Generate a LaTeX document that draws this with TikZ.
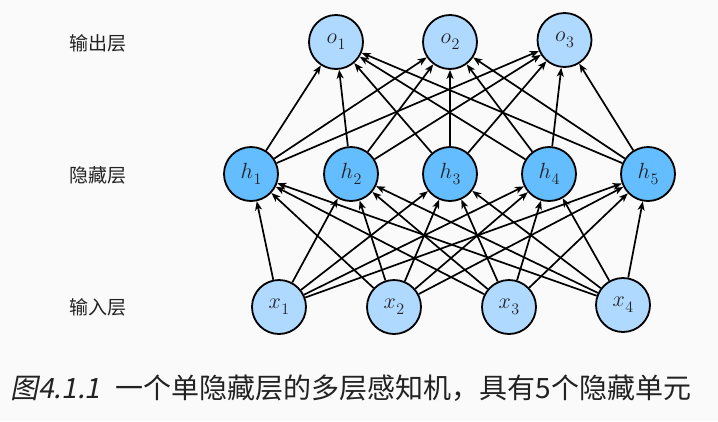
\documentclass[tikz,border=0pt]{standalone}
\usepackage{fix-cm}
\usepackage[no-math]{fontspec}
\setmainfont{Noto Sans CJK SC}
\newfontfamily\cjkslant[FakeSlant=0.2]{Noto Sans CJK SC}
\usetikzlibrary{arrows.meta}
\definecolor{bgc}{RGB}{250,250,250}
\definecolor{lightnode}{RGB}{176,217,255}
\definecolor{darknode}{RGB}{99,189,254}
\definecolor{captc}{RGB}{34,34,34}
\newcommand{\nodelabel}[2]{\fontsize{22}{26}\selectfont$#1$\kern0.5pt\raisebox{-6pt}{\fontsize{16}{18}\selectfont$#2$}}
\tikzset{
  neuron/.style={circle, draw=black, line width=1.8pt, minimum size=54pt, inner sep=0pt, text=captc},
  ionode/.style={neuron, fill=lightnode},
  hidnode/.style={neuron, fill=darknode},
  conn/.style={line width=1.7pt, -{Stealth[length=9pt,width=7pt,inset=2.5pt]}},
  layerlabel/.style={font=\fontsize{19}{22}\selectfont, text=captc},
}
\begin{document}
\begin{tikzpicture}[x=1pt,y=-1pt]
\fill[bgc] (0,0) rectangle (718,421);
\useasboundingbox (0,0) rectangle (718,421);
% output layer
\node[ionode] (o1) at (336,42) {\nodelabel{o}{1}};
\node[ionode] (o2) at (450,42) {\nodelabel{o}{2}};
\node[ionode] (o3) at (564.5,40) {\nodelabel{o}{3}};
% hidden layer
\node[hidnode] (h1) at (251,174) {\nodelabel{h}{1}};
\node[hidnode] (h2) at (351,174) {\nodelabel{h}{2}};
\node[hidnode] (h3) at (450,174) {\nodelabel{h}{3}};
\node[hidnode] (h4) at (549,174) {\nodelabel{h}{4}};
\node[hidnode] (h5) at (648,174) {\nodelabel{h}{5}};
% input layer
\node[ionode] (x1) at (279,307) {\nodelabel{x}{1}};
\node[ionode] (x2) at (394,307) {\nodelabel{x}{2}};
\node[ionode] (x3) at (509,307) {\nodelabel{x}{3}};
\node[ionode] (x4) at (623,305) {\nodelabel{x}{4}};
% connections
\foreach \i in {1,...,4}{
  \foreach \j in {1,...,5}{
    \draw[conn] (x\i) -- (h\j);
  }
}
\foreach \j in {1,...,5}{
  \foreach \k in {1,...,3}{
    \draw[conn] (h\j) -- (o\k);
  }
}
% layer labels
\node[layerlabel] (lo) at (98,43) {输出层};
\node[layerlabel] (lh) at (98,175) {隐藏层};
\node[layerlabel] (li) at (98,307) {输入层};
% caption
\node[anchor=base west, inner sep=0pt, text=captc, font=\fontsize{28}{31}\selectfont] (cap) at (10,398) {{\cjkslant 图4.1.1}\hspace{0.55em}一个单隐藏层的多层感知机，具有5个隐藏单元};
\end{tikzpicture}
\end{document}
